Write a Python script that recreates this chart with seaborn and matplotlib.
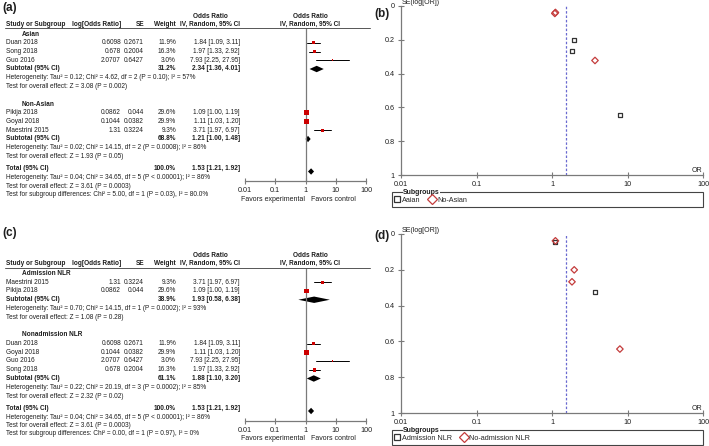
import numpy as np
import matplotlib
matplotlib.use('Agg')
import matplotlib.pyplot as plt
import seaborn as sns
import pandas as pd
from matplotlib.patches import Rectangle
from matplotlib.lines import Line2D

sns.set_theme(style='white')
plt.rcParams['font.family'] = ['Liberation Sans', 'DejaVu Sans']

# ---- data ----
study = ['Duan 2018', 'Song 2018', 'Guo 2016', 'Pikija 2018', 'Goyal 2018', 'Maestrini 2015']
log_or = ['0.6098', '0.678', '2.0707', '0.0862', '0.1044', '1.31']
se = [0.2671, 0.2004, 0.6427, 0.044, 0.0382, 0.3224]
weight = [11.9, 16.3, 3.0, 29.6, 29.9, 9.3]
odds = [1.84, 1.97, 7.93, 1.09, 1.11, 3.71]
ci_lo = [1.09, 1.33, 2.25, 1.00, 1.03, 1.97]
ci_hi = [3.11, 2.92, 27.95, 1.19, 1.20, 6.97]

region = ['Asian', 'Asian', 'Asian', 'Non-Asian', 'Non-Asian', 'Non-Asian']
admission = ['Nonadmission NLR', 'Nonadmission NLR', 'Nonadmission NLR',
             'Admission NLR', 'Nonadmission NLR', 'Admission NLR']

# subgroup results (a)
sub_a = {'Asian': (31.2, 2.34, 1.36, 4.01), 'Non-Asian': (68.8, 1.21, 1.00, 1.48)}
order_a = {'Asian': ['Duan 2018', 'Song 2018', 'Guo 2016'],
           'Non-Asian': ['Pikija 2018', 'Goyal 2018', 'Maestrini 2015']}
het_a = {'Asian': ['Heterogeneity: Tau\u00b2 = 0.12; Chi\u00b2 = 4.62, df = 2 (P = 0.10); I\u00b2 = 57%',
                   'Test for overall effect: Z = 3.08 (P = 0.002)'],
         'Non-Asian': ['Heterogeneity: Tau\u00b2 = 0.02; Chi\u00b2 = 14.15, df = 2 (P = 0.0008); I\u00b2 = 86%',
                       'Test for overall effect: Z = 1.93 (P = 0.05)']}
# subgroup results (c)
sub_c = {'Admission NLR': (38.9, 1.93, 0.58, 6.38), 'Nonadmission NLR': (61.1, 1.88, 1.10, 3.20)}
order_c = {'Admission NLR': ['Maestrini 2015', 'Pikija 2018'],
           'Nonadmission NLR': ['Duan 2018', 'Goyal 2018', 'Guo 2016', 'Song 2018']}
het_c = {'Admission NLR': ['Heterogeneity: Tau\u00b2 = 0.70; Chi\u00b2 = 14.15, df = 1 (P = 0.0002); I\u00b2 = 93%',
                           'Test for overall effect: Z = 1.08 (P = 0.28)'],
         'Nonadmission NLR': ['Heterogeneity: Tau\u00b2 = 0.22; Chi\u00b2 = 20.19, df = 3 (P = 0.0002); I\u00b2 = 85%',
                              'Test for overall effect: Z = 2.32 (P = 0.02)']}

total = (100.0, 1.53, 1.21, 1.92)
total_txt = ['Heterogeneity: Tau\u00b2 = 0.04; Chi\u00b2 = 34.65, df = 5 (P < 0.00001); I\u00b2 = 86%',
             'Test for overall effect: Z = 3.61 (P = 0.0003)']
subdiff_a = 'Test for subgroup differences: Chi\u00b2 = 5.00, df = 1 (P = 0.03), I\u00b2 = 80.0%'
subdiff_c = 'Test for subgroup differences: Chi\u00b2 = 0.00, df = 1 (P = 0.97), I\u00b2 = 0%'

or_ticks = [0.01, 0.1, 1, 10, 100]
or_labels = ['0.01', '0.1', '1', '10', '100']
se_ticks = [0, 0.2, 0.4, 0.6, 0.8, 1]
se_labels = ['0', '0.2', '0.4', '0.6', '0.8', '1']

df = pd.DataFrame({'study': study, 'log_or': log_or, 'se': se, 'weight': weight,
                   'OR': odds, 'lo': ci_lo, 'hi': ci_hi,
                   'region': region, 'admission': admission}).set_index('study', drop=False)

W, H = 709, 446
fig = plt.figure(figsize=(W / 100, H / 100), dpi=100)
TXT = '#1e1e1e'
GRAY = '#7a7a7a'
FS = 4.7


def T(x, y, s, ha='left', bold=False, size=FS, color=TXT):
    return fig.text(x / W, 1 - y / H, s, ha=ha, va='center', fontsize=size,
                    fontweight='bold' if bold else 'normal', color=color)


def diamond(ax, est, lo, hi, y, h=3.2):
    ax.fill([lo, est, hi, est], [y, y - h, y, y + h], color='black', lw=0)


def forest(off, lab, lab_y, groups, order, het, subdiff):
    T(2, lab_y, lab, bold=True, size=8.5)
    T(210, 16 + off, 'Odds Ratio', ha='center', bold=True)
    T(310, 16 + off, 'Odds Ratio', ha='center', bold=True)
    hy = 24 + off
    T(6, hy, 'Study or Subgroup', bold=True)
    T(121, hy, 'log[Odds Ratio]', ha='right', bold=True)
    T(144, hy, 'SE', ha='right', bold=True)
    T(176, hy, 'Weight', ha='right', bold=True)
    T(240, hy, 'IV, Random, 95% CI', ha='right', bold=True)
    T(310, hy, 'IV, Random, 95% CI', ha='center', bold=True)
    fig.add_artist(Line2D([5 / W, 370 / W], [1 - (28 + off) / H] * 2, color='#555555', lw=0.7))

    top, bot = 28 + off, 181 + off
    ax = fig.add_axes([245 / W, 1 - bot / H, 121 / W, (bot - top) / H])
    ax.set_xscale('log')
    ax.set_xlim(0.01, 100)
    ax.set_ylim(bot, top)
    ax.patch.set_alpha(0)
    for s in ['top', 'left', 'right']:
        ax.spines[s].set_visible(False)
    ax.spines['bottom'].set_color(GRAY)
    ax.spines['bottom'].set_linewidth(0.9)
    ax.set_xticks(or_ticks)
    ax.set_xticklabels(or_labels)
    ax.xaxis.set_minor_locator(plt.NullLocator())
    ax.tick_params(axis='x', direction='inout', length=5, width=0.8, color=GRAY,
                   labelsize=5.2, labelcolor=TXT, pad=2, bottom=True)
    ax.set_yticks([])
    ax.axvline(1, color=GRAY, lw=0.9)

    y = 34 + off
    step = 8.75
    rows = []
    for g in order:
        T(22, y, g, bold=True)
        y += step
        for name in order[g]:
            r = df.loc[name]
            T(6, y, name)
            T(121, y, r['log_or'], ha='right')
            T(144, y, f"{r['se']:g}", ha='right')
            T(176, y, f"{r['weight']:.1f}%", ha='right')
            T(240, y, f"{r['OR']:.2f} [{r['lo']:.2f}, {r['hi']:.2f}]", ha='right')
            ax.plot([r['lo'], r['hi']], [y, y], color='black', lw=0.7)
            rows.append((r['OR'], y, r['weight']))
            y += step
        w, est, lo, hi = groups[g]
        T(6, y, 'Subtotal (95% CI)', bold=True)
        T(176, y, f'{w:.1f}%', ha='right', bold=True)
        T(240, y, f'{est:.2f} [{lo:.2f}, {hi:.2f}]', ha='right', bold=True)
        diamond(ax, est, lo, hi, y)
        y += step
        T(6, y, het[g][0])
        y += step
        T(6, y, het[g][1])
        y += 17.5
    y -= 5
    w, est, lo, hi = total
    T(6, y, 'Total (95% CI)', bold=True)
    T(176, y, f'{w:.1f}%', ha='right', bold=True)
    T(240, y, f'{est:.2f} [{lo:.2f}, {hi:.2f}]', ha='right', bold=True)
    diamond(ax, est, lo, hi, y + 2.5)
    for i, s in enumerate(total_txt + [subdiff]):
        T(6, y + step * (i + 1) - 0.5 * i, s)

    sq = pd.DataFrame(rows, columns=['OR', 'y', 'w'])
    sns.scatterplot(data=sq, x='OR', y='y', marker='s', color='#cc0000', size='w',
                    sizes=(1.3, 13), size_norm=(3, 30), linewidth=0, legend=False, ax=ax, zorder=3)
    ax.set_xlabel('')
    ax.set_ylabel('')
    T(273, 199 + off, 'Favors experimental', ha='center', size=5.0)
    T(333, 199 + off, 'Favors control', ha='center', size=5.0)


def funnel(top, bot, lab, lab_y, col, names, box_top):
    T(382, lab_y, lab, ha='center', bold=True, size=8.5)
    ax = fig.add_axes([401 / W, 1 - bot / H, 302 / W, (bot - top) / H])
    ax.set_xscale('log')
    ax.set_xlim(0.01, 100)
    ax.set_ylim(1, 0)
    ax.patch.set_alpha(0)
    for s in ['top', 'right']:
        ax.spines[s].set_visible(False)
    for s in ['left', 'bottom']:
        ax.spines[s].set_color(GRAY)
        ax.spines[s].set_linewidth(0.9)
    ax.set_xticks(or_ticks)
    ax.set_xticklabels(or_labels)
    ax.xaxis.set_minor_locator(plt.NullLocator())
    ax.set_yticks(se_ticks)
    ax.set_yticklabels(se_labels)
    ax.tick_params(direction='inout', length=5, width=0.8, color=GRAY,
                   labelsize=5.2, labelcolor=TXT, pad=2, left=True, bottom=True)
    ax.axvline(total[1], color='#6a6ad0', lw=0.9, ls=(0, (2, 1.5)))
    styles = [('s', '#333333', 8), ('D', '#c43c3c', 11)]
    handles = []
    for (g, shown), (m, c, s) in zip(names, styles):
        d = df[df[col] == g]
        sns.scatterplot(x=d['OR'], y=d['se'], marker=m, facecolor='none', edgecolor=c,
                        s=s, linewidth=0.9, ax=ax, zorder=3)
        handles.append(Line2D([], [], marker=m, ls='', mfc='none', mec=c, ms=4.2 if m == 's' else 5,
                              mew=0.9, label=shown))
    ax.set_xlabel('')
    ax.set_ylabel('')
    T(402, top - 4 if top > 100 else 3, 'SE(log[OR])', size=5.0)
    T(697, bot - 5, 'OR', ha='center', size=5.0)
    fig.add_artist(Rectangle((392 / W, 1 - (box_top + 15) / H), 311 / W, 15 / H,
                             transform=fig.transFigure, fill=False, ec='#444444', lw=0.8))
    t = T(403, box_top, 'Subgroups', bold=True, size=5.0)
    t.set_bbox(dict(fc='white', ec='none', pad=0.3))
    fig.legend(handles=handles, loc='center left', bbox_to_anchor=(394 / W, 1 - (box_top + 8) / H),
               ncol=2, frameon=False, fontsize=5.2, handletextpad=0.2, columnspacing=1.2,
               handlelength=0.9, borderpad=0, borderaxespad=0)


forest(0, '(a)', 8, sub_a, order_a, het_a, subdiff_a)
forest(239.5, '(c)', 233, sub_c, order_c, het_c, subdiff_c)
funnel(6, 175, '(b)', 14, 'region', [('Asian', 'Aaian'), ('Non-Asian', 'No-Asian')], 192)
funnel(234, 413, '(d)', 236, 'admission',
       [('Admission NLR', 'Admission NLR'), ('Nonadmission NLR', 'No-admission NLR')], 430)

fig.savefig('out.png', dpi=100, facecolor='white')
